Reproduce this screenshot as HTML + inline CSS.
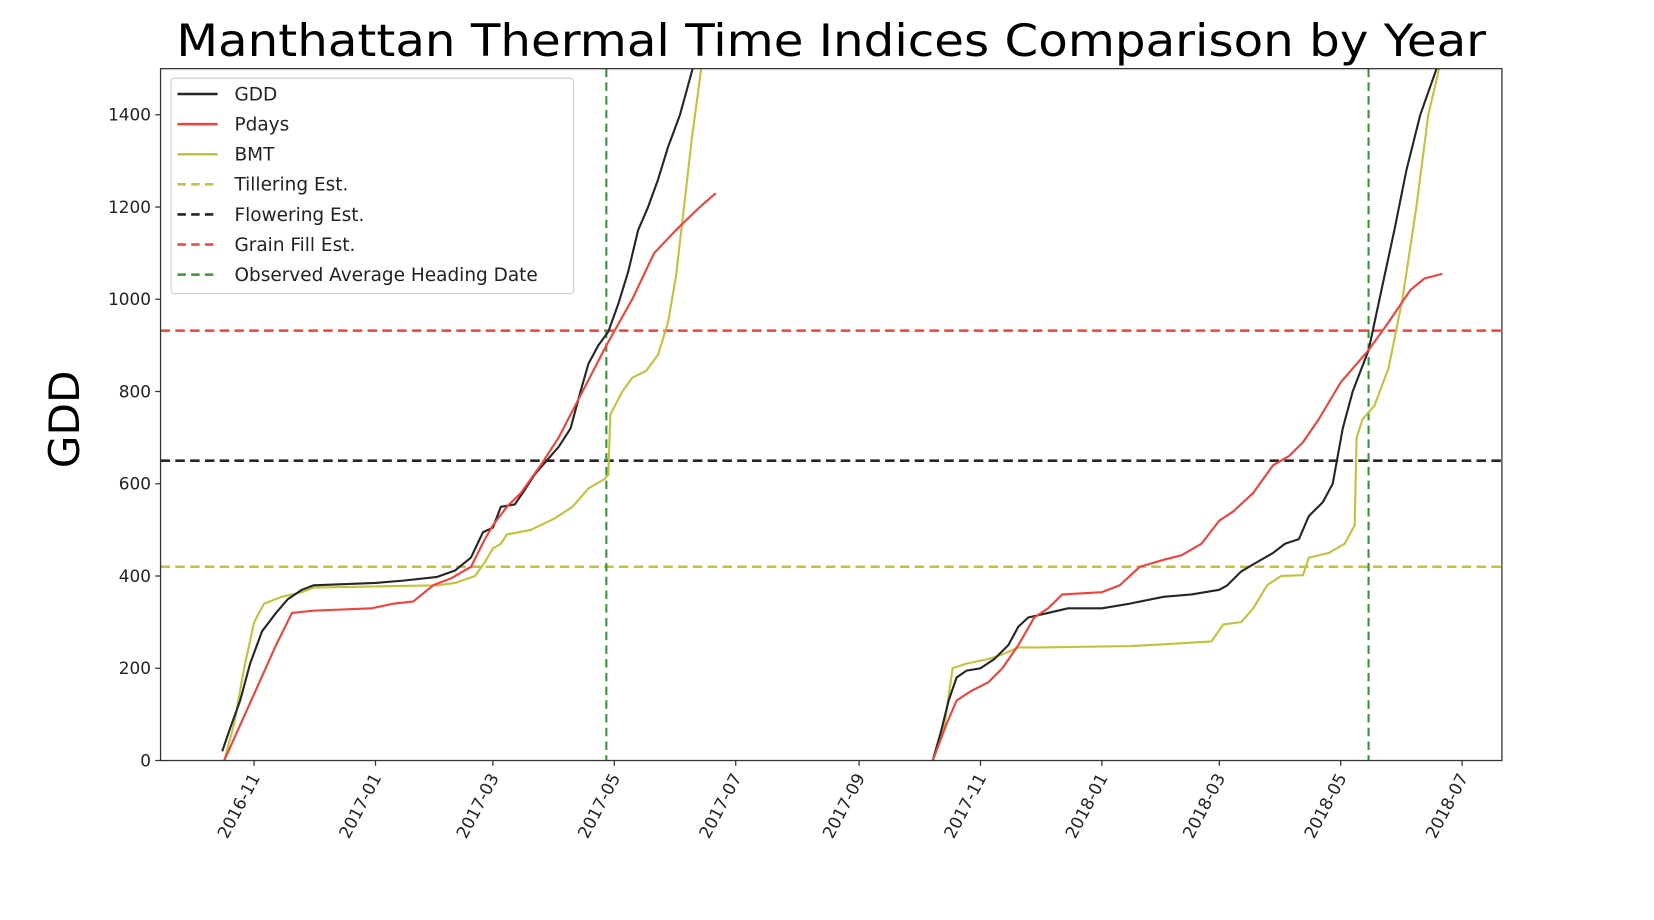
<!DOCTYPE html>
<html><head><meta charset="utf-8"><style>
html,body{margin:0;padding:0;background:#fff;}
svg{display:block;font-family:"DejaVu Sans","Liberation Sans",sans-serif;}
</style></head><body>
<svg id="chart" width="1654" height="920" viewBox="0 0 1566 871" preserveAspectRatio="none" xmlns="http://www.w3.org/2000/svg">
<text x="787" y="53" text-anchor="middle" font-size="42" textLength="1240" lengthAdjust="spacingAndGlyphs" fill="#000">Manthattan Thermal Time Indices Comparison by Year</text>
<text transform="translate(75,397) rotate(-90)" text-anchor="middle" font-size="40" fill="#000">GDD</text>
<g id="plot"></g>
</svg>
<script>
const xTickLabels=["2016-11","2017-01","2017-03","2017-05","2017-07","2017-09","2017-11","2018-01","2018-03","2018-05","2018-07"];
const yTicks=[0,200,400,600,800,1000,1200,1400];
const gdd1Dates=["2016-10-16","2016-10-20","2016-10-25","2016-10-30","2016-11-05","2016-11-12","2016-11-18","2016-11-25","2016-12-01","2017-01-01","2017-01-15","2017-02-01","2017-02-10","2017-02-18","2017-02-24","2017-03-01","2017-03-05","2017-03-12","2017-03-16","2017-03-22","2017-03-28","2017-04-03","2017-04-09","2017-04-14","2017-04-18","2017-04-23","2017-04-28","2017-05-03","2017-05-08","2017-05-13","2017-05-18","2017-05-23","2017-05-28","2017-06-03","2017-06-10"];
const gdd1Vals=[20,70,130,210,280,320,350,370,380,385,390,398,412,440,495,505,550,555,580,620,650,680,720,800,860,900,930,990,1060,1150,1200,1260,1330,1400,1510];
const pdays1Dates=["2016-10-17","2016-11-12","2016-11-20","2016-12-01","2016-12-30","2017-01-10","2017-01-20","2017-01-30","2017-02-08","2017-02-18","2017-02-25","2017-03-01","2017-03-08","2017-03-15","2017-03-25","2017-04-03","2017-04-15","2017-04-27","2017-05-10","2017-05-21","2017-06-01","2017-06-13","2017-06-21"];
const pdays1Vals=[0,250,320,325,330,340,345,380,395,420,480,510,550,580,640,700,800,900,1000,1100,1150,1200,1230];
const bmt1Dates=["2016-10-17","2016-10-22","2016-10-27","2016-11-01","2016-11-06","2016-11-15","2016-11-25","2016-12-01","2017-02-01","2017-02-10","2017-02-20","2017-02-25","2017-03-01","2017-03-05","2017-03-08","2017-03-20","2017-04-01","2017-04-10","2017-04-18","2017-04-26","2017-04-28","2017-04-29","2017-05-05","2017-05-10","2017-05-17","2017-05-23","2017-05-28","2017-06-01","2017-06-05","2017-06-09","2017-06-14"];
const bmt1Vals=[0,80,200,300,340,355,365,375,380,385,400,430,460,470,490,500,525,550,590,610,620,750,800,830,845,880,950,1050,1200,1350,1510];
const gdd2Dates=["2017-10-08","2017-10-12","2017-10-16","2017-10-20","2017-10-25","2017-11-01","2017-11-08","2017-11-15","2017-11-20","2017-11-25","2017-12-05","2017-12-15","2018-01-01","2018-01-15","2018-02-01","2018-02-15","2018-03-01","2018-03-05","2018-03-12","2018-03-20","2018-03-28","2018-04-03","2018-04-10","2018-04-15","2018-04-22","2018-04-27","2018-05-02","2018-05-07","2018-05-15","2018-05-22","2018-05-28","2018-06-03","2018-06-10","2018-06-19"];
const gdd2Vals=[0,60,130,180,195,200,220,250,290,310,320,330,330,340,355,360,370,380,410,430,450,470,480,530,560,600,720,800,890,1030,1150,1280,1400,1510];
const pdays2Dates=["2017-10-08","2017-10-15","2017-10-20","2017-10-27","2017-11-05","2017-11-12","2017-11-20","2017-11-28","2017-12-05","2017-12-12","2018-01-01","2018-01-10","2018-01-20","2018-02-01","2018-02-10","2018-02-20","2018-03-01","2018-03-08","2018-03-18","2018-03-28","2018-04-05","2018-04-12","2018-04-20","2018-05-01","2018-05-15","2018-05-25","2018-06-05","2018-06-12","2018-06-21"];
const pdays2Vals=[0,80,130,150,170,200,250,310,330,360,365,380,420,435,445,470,520,540,580,640,660,690,740,820,890,950,1020,1045,1055];
const bmt2Dates=["2017-10-08","2017-10-14","2017-10-18","2017-10-25","2017-11-05","2017-11-12","2017-11-20","2017-12-01","2018-01-15","2018-02-01","2018-02-25","2018-03-03","2018-03-12","2018-03-18","2018-03-25","2018-04-01","2018-04-12","2018-04-15","2018-04-25","2018-05-03","2018-05-08","2018-05-09","2018-05-12","2018-05-18","2018-05-25","2018-06-01","2018-06-08","2018-06-14","2018-06-20"];
const bmt2Vals=[0,80,200,210,220,230,245,245,248,252,258,295,300,330,380,400,402,440,450,470,510,700,740,770,850,1000,1200,1400,1510];
const hLineNames=["tillering-est-line","flowering-est-line","grain-fill-est-line"];
const hLineVals=[420,650,932];
const headingDates=["2017-04-27","2018-05-15"];

const NS="http://www.w3.org/2000/svg";
const L=152,R=1422,T=65,B=720;
const d0=Date.UTC(2016,8,15),d1=Date.UTC(2018,6,21);
function pd(s){const p=s.split("-");return Date.UTC(+p[0],+p[1]-1,+(p[2]||1));}
function xs(s){return L+(pd(s)-d0)/(d1-d0)*(R-L);}
function ys(v){return B-v/1500*(B-T);}
const plot=document.getElementById("plot");
function mk(tag,attrs,parent){const e=document.createElementNS(NS,tag);for(const k in attrs)e.setAttribute(k,attrs[k]);(parent||plot).appendChild(e);return e;}
const C={k:"#262626",r:"#f2413b",y:"#c3c23d",g:"#3a943a"};
const cp=mk("clipPath",{id:"clip"});
mk("rect",{x:L,y:T,width:R-L,height:B-T},cp);
const g=mk("g",{"clip-path":"url(#clip)"});


hLineVals.forEach((v,i)=>{
  const l=mk("line",{x1:L,x2:R,y1:ys(v),y2:ys(v),stroke:[C.y,C.k,C.r][i],"stroke-width":2.4,"stroke-dasharray":"9,5"},g);
  
  
});
headingDates.forEach((d,i)=>{
  const l=mk("line",{x1:xs(d),x2:xs(d),y1:T,y2:B,stroke:C.g,"stroke-width":2,"stroke-dasharray":"8,5"},g);
  
  
});
function series(dates,vals,col,name){
  const pts=dates.map((d,i)=>xs(d).toFixed(1)+","+ys(vals[i]).toFixed(1)).join(" ");
  const p=mk("polyline",{points:pts,fill:"none",stroke:col,"stroke-width":2,"stroke-linejoin":"round"},g);
  
  
}
series(bmt1Dates,bmt1Vals,C.y,"bmt-2017-line");
series(bmt2Dates,bmt2Vals,C.y,"bmt-2018-line");
series(gdd1Dates,gdd1Vals,C.k,"gdd-2017-line");
series(gdd2Dates,gdd2Vals,C.k,"gdd-2018-line");
series(pdays1Dates,pdays1Vals,C.r,"pdays-2017-line");
series(pdays2Dates,pdays2Vals,C.r,"pdays-2018-line");
const frame=mk("rect",{x:L,y:T,width:R-L,height:B-T,fill:"none",stroke:"#333","stroke-width":1.2});


yTicks.forEach(v=>{
  const y=ys(v);
  mk("line",{x1:L-5,x2:L,y1:y,y2:y,stroke:"#333","stroke-width":1.2});
  const t=mk("text",{x:L-9,y:y+5.5,"text-anchor":"end","font-size":16,fill:"#222"});
  t.textContent=v;
  
  
});
xTickLabels.forEach(s=>{
  const x=xs(s);
  mk("line",{x1:x,x2:x,y1:B,y2:B+5,stroke:"#333","stroke-width":1.2});
  const t=mk("text",{transform:`translate(${x+6},${B+16}) rotate(-62)`,"text-anchor":"end","font-size":16,fill:"#222"});
  t.textContent=s;
  
  
});
const lg=mk("g",{});


mk("rect",{x:162,y:74,width:381,height:204,rx:3,fill:"#fff","fill-opacity":0.85,stroke:"#ccc","stroke-width":1},lg);
const legLabels=["GDD","Pdays","BMT","Tillering Est.","Flowering Est.","Grain Fill Est.","Observed Average Heading Date"];
const legCols=[C.k,C.r,C.y,C.y,C.k,C.r,C.g];
legLabels.forEach((s,i)=>{
  const y=89+i*28.5;
  const e=mk("g",{},lg);
  
  
  const a={x1:168,x2:206,y1:y,y2:y,stroke:legCols[i],"stroke-width":2.4};
  if(i>2)a["stroke-dasharray"]="8,5";
  mk("line",a,e);
  const t=mk("text",{x:222,y:y+6,"font-size":17.5,fill:"#222"},e);
  t.textContent=s;
});
</script>
</body></html>
